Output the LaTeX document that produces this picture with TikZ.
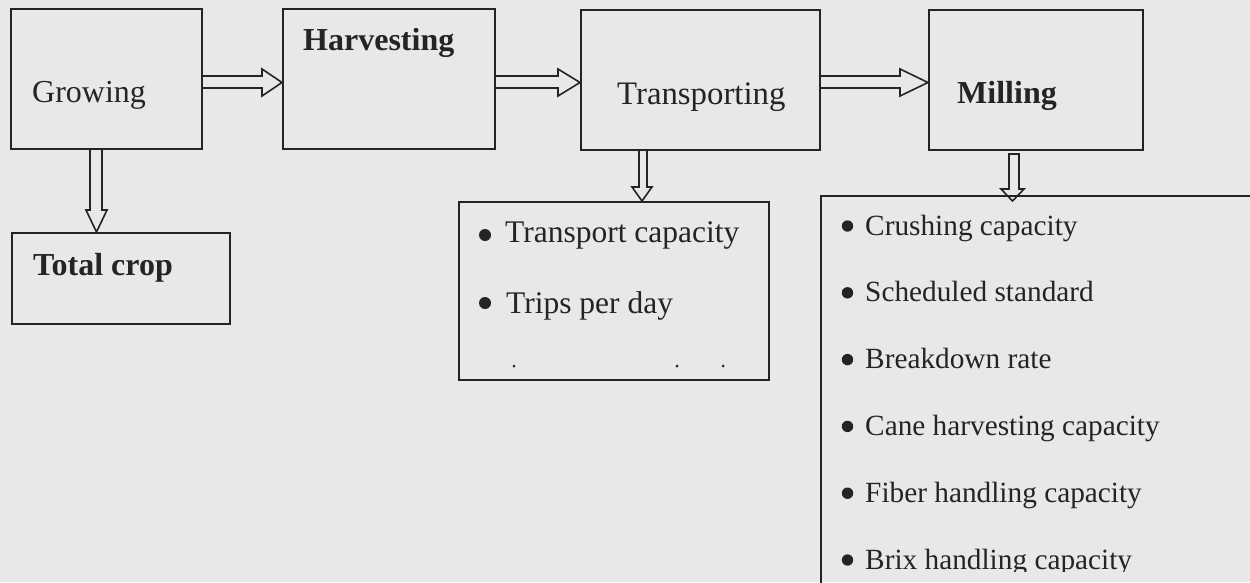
\documentclass[tikz,border=0pt]{standalone}
\usepackage{fontspec}
\setmainfont{Liberation Serif}
\usetikzlibrary{calc}
\definecolor{bg}{RGB}{232,232,235}
\definecolor{ink}{RGB}{36,36,34}
\tikzset{
  box/.style={draw=ink, line width=1.8pt, inner sep=0pt, anchor=north west},
  conn/.style={draw=ink, line width=1.6pt, line join=miter},
  lbl/.style={text=ink, inner sep=0pt, anchor=base west, font=\fontsize{32}{38}\selectfont},
  lblb/.style={lbl, font=\fontsize{32}{38}\selectfont\bfseries},
  item/.style={text=ink, inner sep=0pt, anchor=base west},
  bul/.style={fill=ink},
}
\newcommand\hconn[3]{%
  \draw[conn] (#1.east |- 0,76) -- ($(#2.west |- 0,76)+(-#3,0)$)
    -- ($(#2.west |- 0,69)+(-#3,0)$) -- (#2.west |- 0,82.5)
    -- ($(#2.west |- 0,96)+(-#3,0)$) -- ($(#2.west |- 0,88)+(-#3,0)$)
    -- (#1.east |- 0,88);}
\begin{document}
\begin{tikzpicture}[x=1pt,y=-1pt]
\fill[bg] (0,0) rectangle (1250,582);
\useasboundingbox (0,0) rectangle (1250,582);
% boxes
\node[box, minimum width=191pt, minimum height=140pt] (grow) at (10,8) {};
\node[box, minimum width=212pt, minimum height=140pt] (harv) at (282,8) {};
\node[box, minimum width=239pt, minimum height=140pt] (trans) at (580,9) {};
\node[box, minimum width=214pt, minimum height=140pt] (mill) at (928,9) {};
\node[box, minimum width=218pt, minimum height=91pt] (total) at (11,232) {};
\node[box, minimum width=310pt, minimum height=178pt] (tbox) at (458,201) {};
\node[box, minimum width=450pt, minimum height=400pt] (mbox) at (820,195) {};
% labels
\node[lbl] (tgrow) at (32,102) {Growing};
\node[lblb] (tharv) at (303,50) {Harvesting};
\node[lbl, font=\fontsize{32.8}{38}\selectfont] (ttrans) at (617,104) {Transporting};
\node[lblb] (tmill) at (957,103) {Milling};
\node[lblb] (ttotal) at (33,275) {Total crop};
% horizontal connectors
\hconn{grow}{harv}{20}
\hconn{harv}{trans}{22}
\hconn{trans}{mill}{28}
% vertical connectors
\draw[conn] (90,0 |- grow.south) -- (90,210) -- (86,210) -- (96.5,0 |- total.north)
  -- (107,210) -- (102,210) -- (102,0 |- grow.south);
\draw[conn] (639,0 |- trans.south) -- (639,187) -- (632,187) -- (642,0 |- tbox.north)
  -- (652,187) -- (647,187) -- (647,0 |- trans.south);
\draw[conn] (1009,154) -- (1009,189) -- (1001,189) -- (1012.5,201)
  -- (1024,189) -- (1019,189) -- (1019,154) -- cycle;
% transport list
\fill[bul] (485,235) circle (6pt);
\node[item, font=\fontsize{31.5}{36}\selectfont] (ti1) at (505,242) {Transport capacity};
\fill[bul] (485,303) circle (6pt);
\node[item, font=\fontsize{31.5}{36}\selectfont] (ti2) at (506,313) {Trips per day};
\fill[ink] (514,366) circle (1.5pt) (677,366) circle (1.5pt) (723,366) circle (1.5pt);
% milling list
\begin{scope}
\clip (0,0) rectangle (1250,571);
\foreach \t [count=\i from 0] in {Crushing capacity,Scheduled standard,Breakdown rate,Cane harvesting capacity,Fiber handling capacity,Brix handling capacity}{
  \fill[bul] (847.5,{226+66.8*\i}) circle (5.7pt);
  \node[item, font=\fontsize{29.3}{34}\selectfont] (mi\i) at (865,{235+66.8*\i}) {\t};
}
\end{scope}
\end{tikzpicture}
\end{document}
